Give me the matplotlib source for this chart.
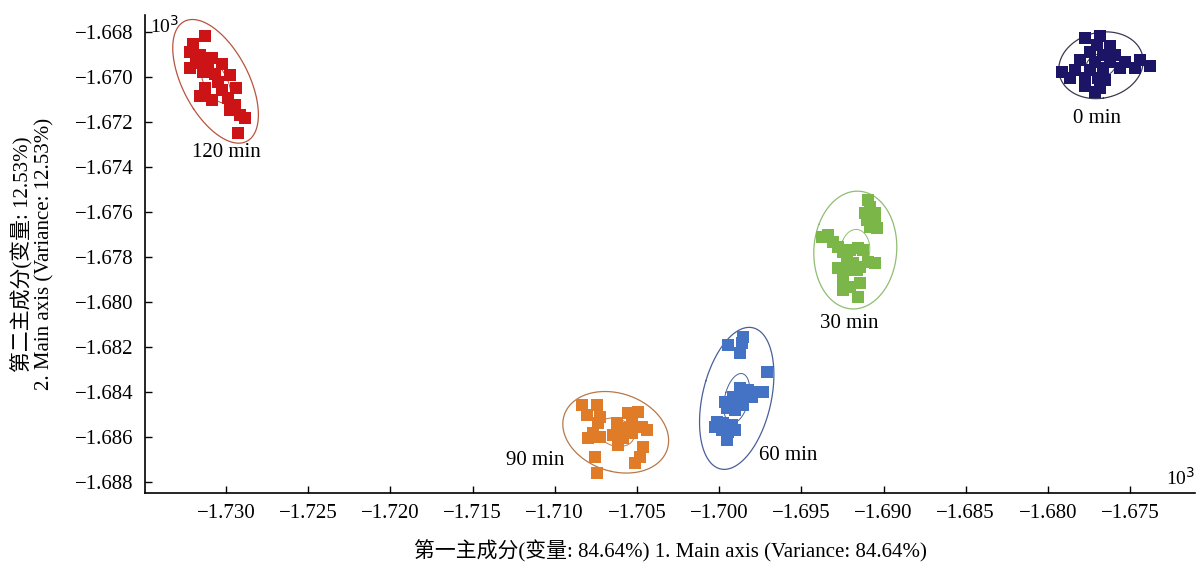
import numpy as np
import matplotlib.pyplot as plt

plt.rcParams['font.family'] = ['Liberation Serif', 'Noto Sans CJK SC']

# PCA scores (x10^3) for each sampling time
t0_x = [-1.67774, -1.67683, -1.67701, -1.67622, -1.67743, -1.67664, -1.67591, -1.67804,
        -1.67713, -1.67622, -1.67530, -1.67439, -1.67378, -1.67914, -1.67835, -1.67743,
        -1.67664, -1.67561, -1.67470, -1.67865, -1.67774, -1.67695, -1.67774, -1.67683,
        -1.67713, -1.67652]
t0_y = [-1.66827, -1.66818, -1.66858, -1.66862, -1.66889, -1.66902, -1.66902, -1.66924,
        -1.66933, -1.66933, -1.66933, -1.66924, -1.66951, -1.66978, -1.66969, -1.66969,
        -1.66960, -1.66960, -1.66960, -1.67004, -1.67004, -1.67004, -1.67040, -1.67049,
        -1.67067, -1.67013]

t30_x = [-1.69094, -1.69082, -1.69112, -1.69051, -1.69100, -1.69051, -1.69082, -1.69039,
         -1.69374, -1.69337, -1.69307, -1.69277, -1.69246, -1.69204, -1.69155, -1.69125,
         -1.69277, -1.69222, -1.69185, -1.69143, -1.69094, -1.69051, -1.69216, -1.69161,
         -1.69246, -1.69204, -1.69143, -1.69246, -1.69155]
t30_y = [-1.67547, -1.67578, -1.67604, -1.67604, -1.67635, -1.67644, -1.67667, -1.67671,
         -1.67711, -1.67702, -1.67733, -1.67755, -1.67778, -1.67769, -1.67760, -1.67769,
         -1.67849, -1.67813, -1.67827, -1.67844, -1.67822, -1.67827, -1.67858, -1.67858,
         -1.67902, -1.67933, -1.67915, -1.67947, -1.67978]

t60_x = [-1.69855, -1.69861, -1.69946, -1.69873, -1.69709, -1.69873, -1.69824, -1.69769,
         -1.69733, -1.69915, -1.69861, -1.69800, -1.69964, -1.69915, -1.69855, -1.69952,
         -1.69903, -1.70013, -1.69976, -1.69922, -1.70025, -1.69982, -1.69946, -1.69903,
         -1.69952]
t60_y = [-1.68155, -1.68182, -1.68191, -1.68227, -1.68311, -1.68382, -1.68391, -1.68400,
         -1.68400, -1.68422, -1.68422, -1.68422, -1.68444, -1.68449, -1.68458, -1.68471,
         -1.68480, -1.68533, -1.68538, -1.68546, -1.68555, -1.68569, -1.68578, -1.68569,
         -1.68613]

t90_x = [-1.70834, -1.70743, -1.70804, -1.70725, -1.70737, -1.70767, -1.70798, -1.70725,
         -1.70621, -1.70603, -1.70554, -1.70493, -1.70530, -1.70469, -1.70439, -1.70645,
         -1.70585, -1.70530, -1.70615, -1.70463, -1.70481, -1.70512, -1.70755, -1.70743,
         -1.70560]
t90_y = [-1.68458, -1.68458, -1.68502, -1.68511, -1.68538, -1.68582, -1.68604, -1.68600,
         -1.68538, -1.68560, -1.68493, -1.68489, -1.68533, -1.68555, -1.68569, -1.68591,
         -1.68604, -1.68582, -1.68635, -1.68644, -1.68689, -1.68715, -1.68689, -1.68760,
         -1.68578]

t120_x = [-1.73128, -1.73201, -1.73219, -1.73158, -1.73085, -1.73183, -1.73110, -1.73024,
          -1.73219, -1.73140, -1.73067, -1.72976, -1.73049, -1.73128, -1.73024, -1.72939,
          -1.73158, -1.73085, -1.72988, -1.72945, -1.72976, -1.72915, -1.72884, -1.72927]
t120_y = [-1.66818, -1.66853, -1.66889, -1.66902, -1.66916, -1.66938, -1.66951, -1.66942,
          -1.66960, -1.66978, -1.66987, -1.66991, -1.67022, -1.67049, -1.67058, -1.67049,
          -1.67084, -1.67102, -1.67093, -1.67124, -1.67147, -1.67169, -1.67182, -1.67249]

xticks = [-1.730, -1.725, -1.720, -1.715, -1.710, -1.705, -1.700,
          -1.695, -1.690, -1.685, -1.680, -1.675]
yticks = [-1.688, -1.686, -1.684, -1.682, -1.680, -1.678, -1.676,
          -1.674, -1.672, -1.670, -1.668]

# name, x, y, marker colour, ellipse colour, (minor, major) ellipse scale, label offset (pt)
groups = [
    ('0 min', t0_x, t0_y, '#1c1464', '#3a3a50', (2.3, 2.0), (-3, -38)),
    ('30 min', t30_x, t30_y, '#7ab648', '#8fbd72', (3.1, 2.12), (-4, -53)),
    ('60 min', t60_x, t60_y, '#4472c4', '#4a5f9a', (3.0, 2.4), (37, -41)),
    ('90 min', t90_x, t90_y, '#e07b28', '#b8784a', (2.3, 2.6), (-58, -20)),
    ('120 min', t120_x, t120_y, '#cc1416', '#b85440', (3.4, 2.35), (8, -51)),
]


def ellipse_pts(x, y, k_minor, k_major, n=300):
    x = np.asarray(x)
    y = np.asarray(y)
    vals, vecs = np.linalg.eigh(np.cov(x, y))
    t = np.linspace(0, 2 * np.pi, n)
    sc = np.sqrt(vals) * np.array([k_minor, k_major])
    pts = vecs @ (np.vstack([np.cos(t), np.sin(t)]) * sc[:, None])
    return pts[0] + x.mean(), pts[1] + y.mean()


fig = plt.figure(figsize=(11.98, 5.63), dpi=100)
ax = fig.add_axes([145 / 1198, 70 / 563, 1050 / 1198, 478 / 563])

for name, xs, ys, c, ec, (kmin, kmaj), off in groups:
    ex, ey = ellipse_pts(xs, ys, kmin, kmaj)
    ax.plot(ex, ey, color=ec, lw=0.9)
    ix, iy = ellipse_pts(xs, ys, kmin * 0.35, kmaj * 0.35)
    ax.plot(ix, iy, color=ec, lw=0.7)
    ax.scatter(xs, ys, marker='s', s=70, color=c, linewidths=0, zorder=3)
    ax.annotate(name, (np.mean(xs), np.mean(ys)), xytext=off,
                textcoords='offset points', ha='center', va='center', fontsize=15)

ax.set_xlim(-1.73493, -1.67105)
ax.set_ylim(-1.68849, -1.66724)
ax.set_xticks(xticks)
ax.set_yticks(yticks)
ax.set_xticklabels([('%.3f' % v).replace('-', '\u2212') for v in xticks])
ax.set_yticklabels([('%.3f' % v).replace('-', '\u2212') for v in yticks])
ax.tick_params(direction='in', length=5, width=1, labelsize=15, pad=8)
for s in ['top', 'right']:
    ax.spines[s].set_visible(False)
for s in ['left', 'bottom']:
    ax.spines[s].set_linewidth(1.2)

ax.text(0.005, 1.0, '10$^3$', transform=ax.transAxes, fontsize=14, va='top')
ax.text(1.0, 0.008, '10$^3$', transform=ax.transAxes, fontsize=14, ha='right', va='bottom')

ax.set_xlabel('第一主成分(变量: 84.64%) 1. Main axis (Variance: 84.64%)', fontsize=15, labelpad=12)
ax.set_ylabel('第二主成分(变量: 12.53%)\n2. Main axis (Variance: 12.53%)', fontsize=15, labelpad=15,
              linespacing=1.1)

fig.savefig('out.png', dpi=100)
